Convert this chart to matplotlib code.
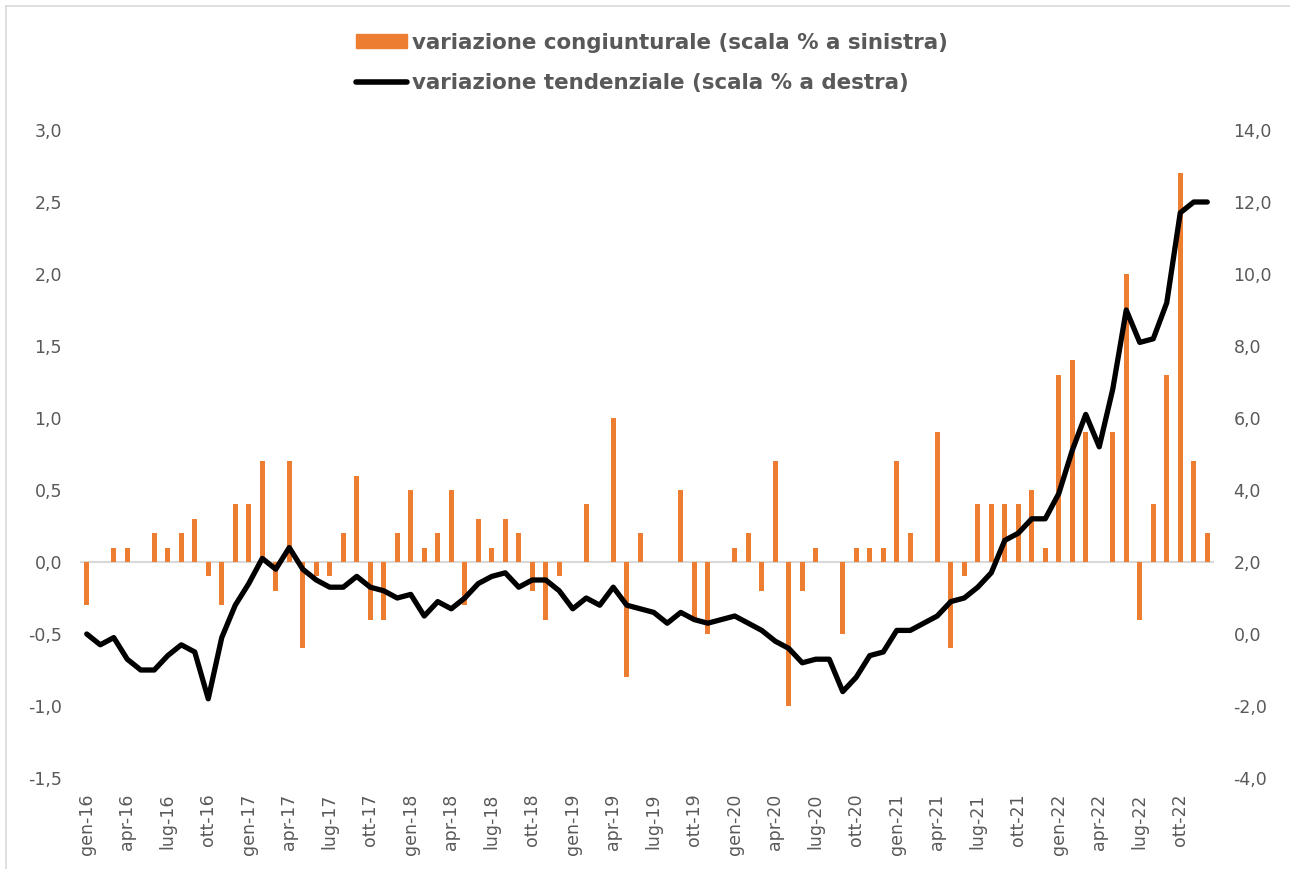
import matplotlib.pyplot as plt
from matplotlib.ticker import FuncFormatter, MultipleLocator
from matplotlib.lines import Line2D

plt.rcParams['font.family'] = 'DejaVu Sans'

# monthly data gen-16 .. dic-22
mesi = ['gen', 'feb', 'mar', 'apr', 'mag', 'giu', 'lug', 'ago', 'set', 'ott', 'nov', 'dic']
anni = ['16', '17', '18', '19', '20', '21', '22']
labels = [m + '-' + a for a in anni for m in mesi]

congiunturale = [
    -0.3, 0.0, 0.1, 0.1, 0.0, 0.2, 0.1, 0.2, 0.3, -0.1, -0.3, 0.4,
    0.4, 0.7, -0.2, 0.7, -0.6, -0.1, -0.1, 0.2, 0.6, -0.4, -0.4, 0.2,
    0.5, 0.1, 0.2, 0.5, -0.3, 0.3, 0.1, 0.3, 0.2, -0.2, -0.4, -0.1,
    0.0, 0.4, 0.0, 1.0, -0.8, 0.2, 0.0, 0.0, 0.5, -0.4, -0.5, 0.0,
    0.1, 0.2, -0.2, 0.7, -1.0, -0.2, 0.1, 0.0, -0.5, 0.1, 0.1, 0.1,
    0.7, 0.2, 0.0, 0.9, -0.6, -0.1, 0.4, 0.4, 0.4, 0.4, 0.5, 0.1,
    1.3, 1.4, 0.9, 0.0, 0.9, 2.0, -0.4, 0.4, 1.3, 2.7, 0.7, 0.2,
]
tendenziale = [
    0.0, -0.3, -0.1, -0.7, -1.0, -1.0, -0.6, -0.3, -0.5, -1.8, -0.1, 0.8,
    1.4, 2.1, 1.8, 2.4, 1.8, 1.5, 1.3, 1.3, 1.6, 1.3, 1.2, 1.0,
    1.1, 0.5, 0.9, 0.7, 1.0, 1.4, 1.6, 1.7, 1.3, 1.5, 1.5, 1.2,
    0.7, 1.0, 0.8, 1.3, 0.8, 0.7, 0.6, 0.3, 0.6, 0.4, 0.3, 0.4,
    0.5, 0.3, 0.1, -0.2, -0.4, -0.8, -0.7, -0.7, -1.6, -1.2, -0.6, -0.5,
    0.1, 0.1, 0.3, 0.5, 0.9, 1.0, 1.3, 1.7, 2.6, 2.8, 3.2, 3.2,
    3.9, 5.1, 6.1, 5.2, 6.8, 9.0, 8.1, 8.2, 9.2, 11.7, 12.0, 12.0,
]

orange = '#ED7D31'
grey = '#595959'
x = list(range(len(labels)))

fig = plt.figure(figsize=(12.9, 8.69), dpi=100)
ax = fig.add_axes([80 / 1290, 1 - 778 / 869, (1214 - 80) / 1290, (778 - 130) / 869])
ax2 = ax.twinx()

ax.axhline(0, color='#D9D9D9', lw=1.5, zorder=1)
ax.bar(x, congiunturale, width=0.4, color=orange, zorder=2)
ax2.plot(x, tendenziale, color='black', lw=3.8, solid_capstyle='round', solid_joinstyle='round')

ax.set_xlim(-0.5, len(labels) - 0.5)
ax.set_ylim(-1.5, 3.0)
ax2.set_ylim(-4, 14)
ax.yaxis.set_major_locator(MultipleLocator(0.5))
ax2.yaxis.set_major_locator(MultipleLocator(2))
fmt = FuncFormatter(lambda v, p: f'{v:.1f}'.replace('.', ','))
ax.yaxis.set_major_formatter(fmt)
ax2.yaxis.set_major_formatter(fmt)

ax.set_xticks(x[::3])
ax.set_xticklabels(labels[::3], rotation=90, va='top', ha='center')

for a in (ax, ax2):
    for s in a.spines.values():
        s.set_visible(False)
ax.tick_params(axis='both', length=0, colors=grey, labelsize=12.5)
ax.tick_params(axis='y', pad=13)
ax.tick_params(axis='x', pad=11)
ax2.tick_params(axis='y', length=0, colors=grey, labelsize=12.5, pad=14)

handles = [
    plt.Rectangle((0, 0), 1, 1, color=orange),
    Line2D([], [], color='black', lw=4, solid_capstyle='round'),
]
leg = fig.legend(handles, ['variazione congiunturale (scala % a sinistra)',
                           'variazione tendenziale (scala % a destra)'],
                 loc='upper center', bbox_to_anchor=(652 / 1290, 1 - 22 / 869), frameon=False,
                 prop={'size': 15.4, 'weight': 'bold'}, handlelength=2.4, handletextpad=0.25,
                 handleheight=0.6, labelspacing=0.95, borderpad=0)
for t in leg.get_texts():
    t.set_color(grey)

# chart area border
fig.add_artist(Line2D([6 / 1290, 6 / 1290], [0, 1 - 6 / 869], color='#D9D9D9', lw=1.2))
fig.add_artist(Line2D([6 / 1290, 1], [1 - 6 / 869, 1 - 6 / 869], color='#D9D9D9', lw=1.2))

fig.savefig('out.png', dpi=100)
